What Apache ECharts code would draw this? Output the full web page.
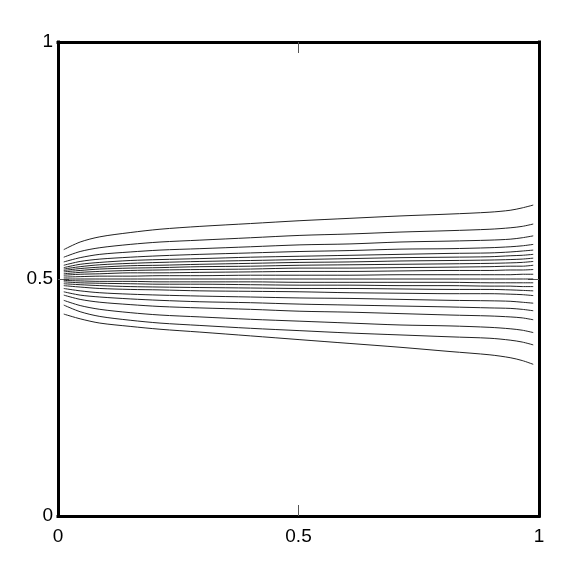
<!DOCTYPE html>
<html>
<head>
<meta charset="utf-8">
<script src="https://cdn.jsdelivr.net/npm/echarts@6/dist/echarts.min.js"></script>
<style>
  html, body { margin: 0; padding: 0; background: #fff; }
  #chart { width: 568px; height: 568px; }
</style>
</head>
<body>
<div id="chart"></div>
<script>
// sample positions along x, shared by every contour line
const xs = [0.012, 0.046, 0.087, 0.15, 0.212, 0.295, 0.4, 0.503, 0.607, 0.711, 0.815, 0.898, 0.94, 0.965, 0.988]

// contour lines above the middle (outermost first)
const up1 = [0.562, 0.578, 0.589, 0.598, 0.605, 0.611, 0.617, 0.623, 0.628, 0.633, 0.637, 0.641, 0.645, 0.650, 0.656]
const up2 = [0.546, 0.558, 0.566, 0.573, 0.578, 0.582, 0.587, 0.592, 0.595, 0.599, 0.602, 0.605, 0.608, 0.611, 0.616]
const up3 = [0.536, 0.545, 0.552, 0.557, 0.561, 0.564, 0.568, 0.572, 0.574, 0.578, 0.580, 0.582, 0.584, 0.587, 0.591]
const up4 = [0.529, 0.537, 0.542, 0.546, 0.549, 0.552, 0.555, 0.558, 0.560, 0.563, 0.564, 0.566, 0.568, 0.570, 0.573]
const up5 = [0.524, 0.531, 0.535, 0.539, 0.541, 0.543, 0.546, 0.548, 0.550, 0.552, 0.554, 0.555, 0.557, 0.559, 0.561]
const up6 = [0.521, 0.526, 0.530, 0.533, 0.535, 0.537, 0.539, 0.541, 0.543, 0.545, 0.546, 0.547, 0.549, 0.550, 0.552]
const up7 = [0.518, 0.522, 0.525, 0.528, 0.529, 0.531, 0.533, 0.535, 0.536, 0.538, 0.539, 0.540, 0.541, 0.542, 0.544]
const up8 = [0.515, 0.518, 0.521, 0.523, 0.524, 0.526, 0.527, 0.529, 0.530, 0.531, 0.532, 0.533, 0.534, 0.535, 0.537]
const up9 = [0.511, 0.514, 0.516, 0.518, 0.519, 0.520, 0.521, 0.523, 0.523, 0.524, 0.525, 0.526, 0.527, 0.527, 0.529]
const up10 = [0.508, 0.510, 0.511, 0.513, 0.513, 0.514, 0.515, 0.516, 0.516, 0.517, 0.518, 0.518, 0.519, 0.519, 0.520]
const up11 = [0.504, 0.505, 0.506, 0.506, 0.507, 0.507, 0.508, 0.508, 0.508, 0.509, 0.509, 0.509, 0.509, 0.510, 0.510]

// the middle line
const mid = [0.5, 0.5, 0.5, 0.5, 0.5, 0.5, 0.5, 0.5, 0.5, 0.5, 0.5, 0.5, 0.5, 0.5, 0.5]

// contour lines below the middle (innermost first)
const dn1 = [0.497, 0.496, 0.495, 0.495, 0.494, 0.494, 0.494, 0.493, 0.493, 0.493, 0.493, 0.492, 0.492, 0.492, 0.492]
const dn2 = [0.494, 0.492, 0.491, 0.490, 0.489, 0.489, 0.488, 0.487, 0.487, 0.486, 0.486, 0.485, 0.485, 0.484, 0.484]
const dn3 = [0.490, 0.488, 0.486, 0.484, 0.483, 0.482, 0.481, 0.480, 0.480, 0.479, 0.478, 0.478, 0.477, 0.476, 0.475]
const dn4 = [0.486, 0.483, 0.480, 0.478, 0.477, 0.475, 0.474, 0.473, 0.471, 0.470, 0.469, 0.469, 0.468, 0.467, 0.465]
const dn5 = [0.480, 0.475, 0.471, 0.468, 0.466, 0.464, 0.462, 0.460, 0.459, 0.457, 0.455, 0.454, 0.453, 0.451, 0.449]
const dn6 = [0.473, 0.466, 0.462, 0.458, 0.455, 0.452, 0.450, 0.447, 0.445, 0.443, 0.441, 0.439, 0.438, 0.436, 0.433]
const dn7 = [0.466, 0.457, 0.451, 0.446, 0.442, 0.439, 0.436, 0.432, 0.430, 0.427, 0.424, 0.422, 0.420, 0.418, 0.414]
const dn8 = [0.455, 0.444, 0.436, 0.429, 0.424, 0.420, 0.415, 0.411, 0.407, 0.403, 0.401, 0.398, 0.395, 0.392, 0.387]
const dn9 = [0.445, 0.431, 0.421, 0.413, 0.407, 0.402, 0.396, 0.391, 0.386, 0.382, 0.378, 0.375, 0.371, 0.367, 0.361]
const dn10 = [0.426, 0.416, 0.407, 0.400, 0.394, 0.388, 0.380, 0.372, 0.364, 0.356, 0.347, 0.340, 0.334, 0.328, 0.320]

const allLines = [up1, up2, up3, up4, up5, up6, up7, up8, up9, up10, up11, mid,
  dn1, dn2, dn3, dn4, dn5, dn6, dn7, dn8, dn9, dn10]

// only the middle tick is drawn, the ends fall on the frame
const tickValues = [0.5]

const font = '"Liberation Sans", Arial, sans-serif'

function frameAxis(position, showLabel) {
  return {
    type: 'value',
    position: position,
    min: 0,
    max: 1,
    interval: 0.5,
    axisLine: { onZero: false, lineStyle: { color: '#000', width: 3, cap: 'square' } },
    //刻度朝里
    axisTick: {
      inside: true,
      length: 11,
      customValues: tickValues,
      lineStyle: { color: '#555', width: 1 }
    },
    axisLabel: {
      show: showLabel,
      color: '#000',
      fontSize: 19,
      fontFamily: font,
      margin: position === 'bottom' ? 11 : 5
    },
    splitLine: { show: false }
  }
}

const myChart = echarts.init(document.getElementById('chart'))
myChart.setOption({
  animation: false,
  backgroundColor: '#fff',
  grid: { left: 58, right: 29, top: 42, bottom: 52 },
  xAxis: [frameAxis('bottom', true), frameAxis('top', false)],
  yAxis: [frameAxis('left', true), frameAxis('right', false)],
  series: allLines.map(ys => ({
    type: 'line',
    xAxisIndex: 0,
    yAxisIndex: 0,
    data: xs.map((x, i) => [x, ys[i]]),
    showSymbol: false,
    smooth: 0.3,
    silent: true,
    lineStyle: { color: '#222', width: 1 }
  }))
})
window.addEventListener('resize', () => {
  myChart.resize()
})
</script>
</body>
</html>
